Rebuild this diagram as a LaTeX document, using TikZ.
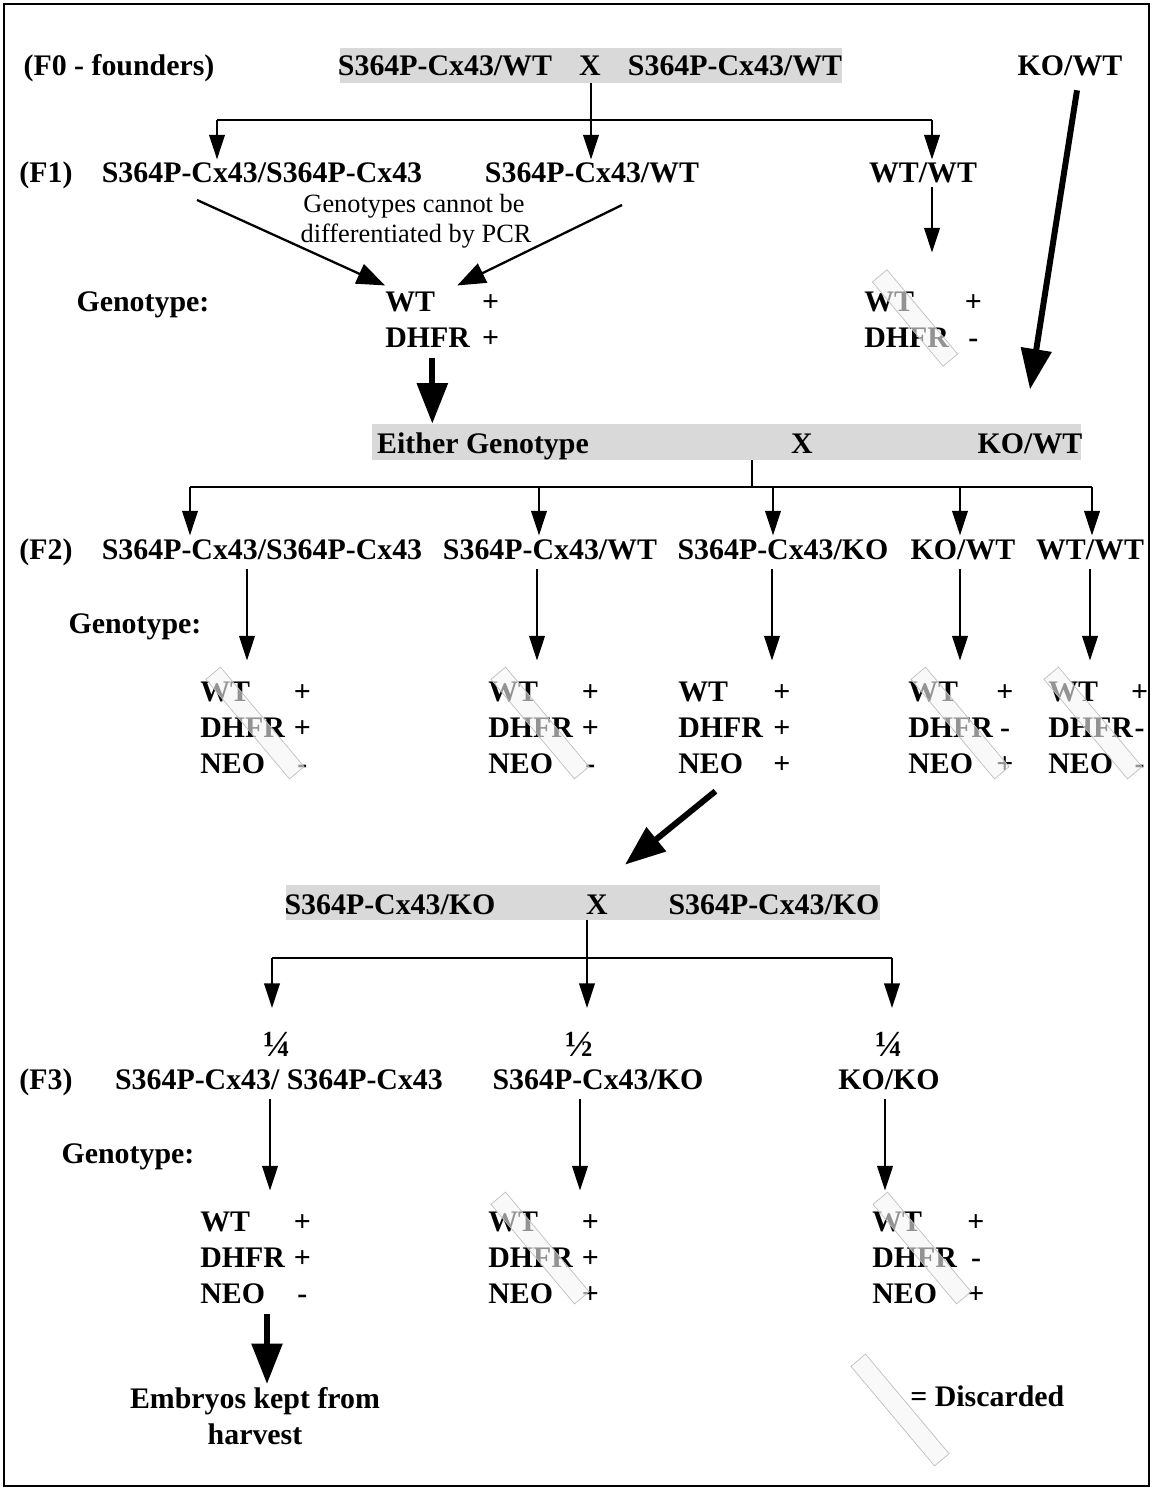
\documentclass[tikz,border=0pt]{standalone}
\usepackage{fontspec}
\setmainfont{Liberation Serif}
\usetikzlibrary{arrows.meta,positioning}
\newcommand{\genes}[2]{\begin{tabular}[t]{@{}l@{\hspace{#1}}c@{}}#2\end{tabular}}

\begin{document}
\begin{tikzpicture}[
    x=0.02cm, y=-0.02cm,
    lab/.style={font=\fontsize{17}{20.5}\selectfont\bfseries, inner sep=2pt, anchor=base},
    gen/.style={font=\fontsize{17}{20.5}\selectfont\bfseries, inner sep=0pt, anchor=base west},
    note/.style={font=\fontsize{15}{16.5}\selectfont, inner sep=1pt, anchor=base},
    frac/.style={font=\fontsize{21}{24}\selectfont\bfseries, inner sep=2pt, anchor=base},
    cross/.style={fill=gray!30, inner sep=0pt, minimum height=0.7cm},
    arr/.style={-{Triangle[length=14pt,width=9pt]}, line width=0.85pt},
    arrb/.style={-{Triangle[length=16pt,width=12pt]}, line width=1.3pt},
    bigarr/.style={-{Triangle[length=23pt,width=17pt]}, line width=3.4pt},
    discard/.style={draw=gray!50, fill=gray!8, fill opacity=0.6, inner sep=0pt, minimum width=2.6cm, minimum height=0.38cm, rotate=-50}
]
\useasboundingbox (0,0) rectangle (1153,1490);
\draw[line width=1.1pt] (4,4) rectangle (1149,1486);

% F0
\node[cross, minimum width=10.04cm] (box0) at (591,65.5) {};
\node[lab] (f0lab) at (119,76) {(F0 - founders)};
\node[lab] (p0a) at (445,76) {S364P-Cx43/WT};
\node[lab] (x0) at (590,76) {X};
\node[lab] (p0b) at (735,76) {S364P-Cx43/WT};
\node[lab] (kowt0) at (1070,76) {KO/WT};

% F1
\node[lab] (f1lab) at (46,183) {(F1)};
\node[lab] (f1a) at (262,183) {S364P-Cx43/S364P-Cx43};
\node[lab] (f1b) at (592,183) {S364P-Cx43/WT};
\node[lab] (f1c) at (923,183) {WT/WT};
\node[note] (pcr1) at (414,213) {Genotypes cannot be};
\node[note] (pcr2) at (416,242) {differentiated by PCR};

\coordinate (j0l) at (217,120);
\coordinate (j0r) at (932,120);
\draw[line width=0.85pt] (j0l) -- (j0r);
\draw[arr] (box0.south) -- (box0.south |- f1b.north);
\draw[arr] (j0l) -- (j0l |- f1a.north);
\draw[arr] (j0r) -- (j0r |- f1c.north);

\node[lab] (g1lab) at (143,311) {Genotype:};
\node[gen] (g1) at (385,311) {\genes{7pt}{WT & + \\ DHFR & +}};
\node[gen] (g2) at (864,311) {\genes{9pt}{WT & + \\ DHFR & -}};

\coordinate (d1) at (197,200);
\coordinate (d2) at (622,205);
\draw[arrb] (d1) -- (g1.north west);
\draw[arrb] (d2) -- ([xshift=0.3cm]g1.north);
\draw[arr, shorten >=0.66cm] (f1c.south -| j0r) -- (g2.north -| j0r);

% cross with KO/WT
\node[cross, minimum width=14.18cm, minimum height=0.72cm] (box1) at (726.5,442) {};
\node[lab] (either) at (483,453) {Either Genotype};
\node[lab] (x1) at (802,453) {X};
\node[lab] (kowt1) at (1030,453) {KO/WT};
\draw[bigarr] ([xshift=-0.2cm]g1.south) -- ([xshift=-0.2cm]g1.south |- box1.north);
\draw[bigarr] ([xshift=0.14cm, yshift=-0.2cm]kowt0.south) -- ([yshift=0.8cm]kowt1.north);

% F2
\coordinate (j1) at (752,487);
\coordinate (j1l) at (190,487);
\coordinate (j1r) at (1092,487);
\draw[line width=0.85pt] (box1.south -| j1) -- (j1);
\draw[line width=0.85pt] (j1l) -- (j1r);

\node[lab] (f2lab) at (46,559) {(F2)};
\node[lab] (f2a) at (262,559) {S364P-Cx43/S364P-Cx43};
\node[lab] (f2b) at (550,559) {S364P-Cx43/WT};
\node[lab] (f2c) at (783,559) {S364P-Cx43/KO};
\node[lab] (f2d) at (963,559) {KO/WT};
\node[lab] (f2e) at (1090,559) {WT/WT};
\foreach \x/\a in {190/f2a, 539/f2b, 773/f2c, 960/f2d, 1092/f2e}
  \draw[arr] (\x,487) -- (\x,0 |- \a.north);

\node[lab] (g2lab) at (135,633) {Genotype:};
\node[gen] (h1) at (200,701) {\genes{5pt}{WT & + \\ DHFR & + \\ NEO & -}};
\node[gen] (h2) at (488,701) {\genes{5pt}{WT & + \\ DHFR & + \\ NEO & -}};
\node[gen] (h3) at (678,701) {\genes{6pt}{WT & + \\ DHFR & + \\ NEO & +}};
\node[gen] (h4) at (908,701) {\genes{2pt}{WT & + \\ DHFR & - \\ NEO & +}};
\node[gen] (h5) at (1048,701) {\genes{-1pt}{WT & + \\ DHFR & - \\ NEO & -}};
\foreach \x/\a/\b in {247/f2a/h1, 537/f2b/h2, 772/f2c/h3, 960/f2d/h4, 1090/f2e/h5}
  \draw[arr, shorten <=0.12cm, shorten >=0.3cm] (\x,0 |- \a.south) -- (\x,0 |- \b.north);

% second cross
\node[cross, minimum width=11.88cm] (box2) at (583,902.5) {};
\node[lab] (p2a) at (390,914) {S364P-Cx43/KO};
\node[lab] (x2) at (597,914) {X};
\node[lab] (p2b) at (774,914) {S364P-Cx43/KO};
\draw[bigarr] ([xshift=-0.38cm, yshift=-0.14cm]h3.south) -- ([xshift=0.84cm, yshift=0.4cm]box2.north);

% F3
\node[frac] (fr1) at (277,1056) {¼};
\node[frac] (fr2) at (579,1056) {½};
\node[frac] (fr3) at (889,1056) {¼};
\coordinate (j2l) at (272,958);
\coordinate (j2r) at (892,958);
\draw[line width=0.85pt] (j2l) -- (j2r);
\draw[arr, shorten >=0.4cm] (587,0 |- box2.south) -- (587,0 |- fr2.north);
\draw[arr, shorten >=0.4cm] (j2l) -- (j2l |- fr1.north);
\draw[arr, shorten >=0.4cm] (j2r) -- (j2r |- fr3.north);

\node[lab] (f3lab) at (46,1089) {(F3)};
\node[lab] (f3a) at (279,1089) {S364P-Cx43/ S364P-Cx43};
\node[lab] (f3b) at (598,1089) {S364P-Cx43/KO};
\node[lab] (f3c) at (889,1089) {KO/KO};

\node[lab] (g3lab) at (128,1163) {Genotype:};
\node[gen] (k1) at (200,1231) {\genes{5pt}{WT & + \\ DHFR & + \\ NEO & -}};
\node[gen] (k2) at (488,1231) {\genes{5pt}{WT & + \\ DHFR & + \\ NEO & +}};
\node[gen] (k3) at (872,1231) {\genes{6pt}{WT & + \\ DHFR & - \\ NEO & +}};
\foreach \x/\a/\b in {270/f3a/k1, 580/f3b/k2, 885/f3c/k3}
  \draw[arr, shorten <=0.12cm, shorten >=0.3cm] (\x,0 |- \a.south) -- (\x,0 |- \b.north);

\node[lab, align=center, anchor=north, font=\fontsize{17}{20}\selectfont\bfseries] (emb) at (255,1384) {Embryos kept from\\harvest};
\draw[bigarr] (267,0 |- k1.south) -- (267,0 |- emb.north);

% discarded marks
\node[discard, minimum width=2.2cm] (c1) at (915,318) {};
\node[discard] (c2) at (255,723) {};
\node[discard] (c3) at (540,723) {};
\node[discard] (c4) at (960,723) {};
\node[discard] (c5) at (1093,723) {};
\node[discard] (c6) at (540,1248) {};
\node[discard] (c7) at (922,1248) {};
\node[discard] (c8) at (900,1410) {};
\node[gen] (legend) at (910,1406) {= Discarded};

\end{tikzpicture}
\end{document}
